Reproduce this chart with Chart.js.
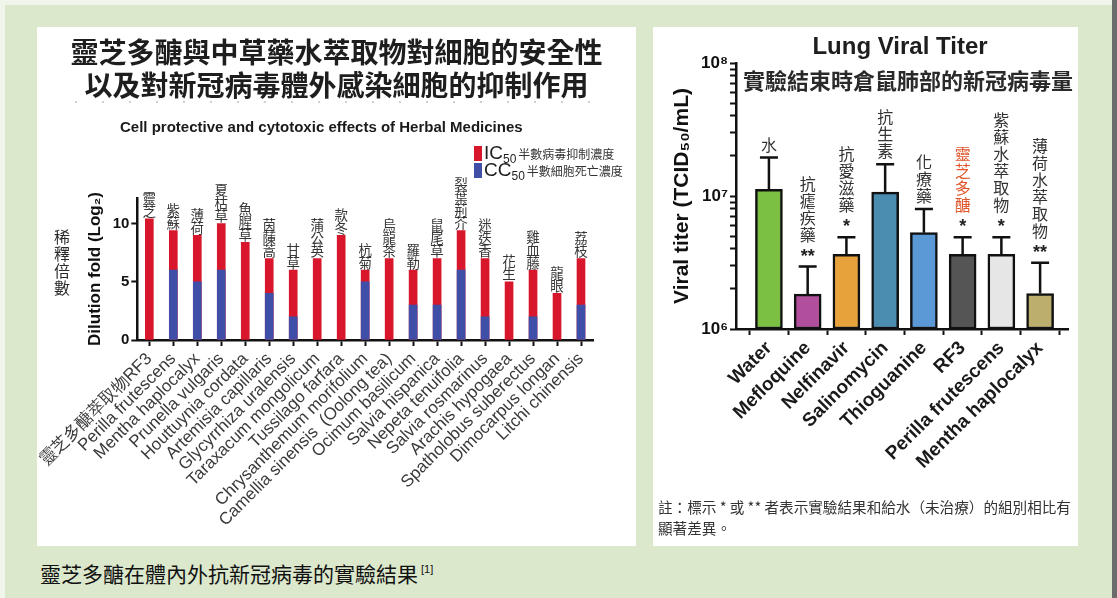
<!DOCTYPE html>
<html>
<head>
<meta charset="utf-8">
<title>靈芝多醣在體內外抗新冠病毒的實驗結果</title>
<script src="https://cdn.jsdelivr.net/npm/chart.js@4.4.1/dist/chart.umd.min.js"></script>
<style>
  html, body { margin: 0; padding: 0; }
  body { width: 1117px; height: 598px; position: relative; overflow: hidden; background: #f1f6ec;
         font-family: "Liberation Sans", Arial, sans-serif; }
  #frame { position: absolute; left: 5px; top: 5px; width: 1107px; height: 593px; background: #dce8cc; }
  #edge { position: absolute; left: 1112px; top: 0; width: 5px; height: 598px; background: #6c6c6c; }
  .panel { position: absolute; background: #fff; }
  #pL { left: 37px; top: 27px; width: 599px; height: 519px; }
  #pR { left: 653px; top: 27px; width: 425px; height: 519px; }
  canvas { position: absolute; left: 0; top: 0; }
  .t { position: absolute; white-space: nowrap; }
  .cjk { font-family: "Noto Sans CJK TC", "Noto Sans CJK SC", sans-serif; }
  .ttl { left: 0; width: 599px; text-align: center; font-size: 28px; line-height: 32px; font-weight: bold; color: #1e1e1e; }
  #dots { position: absolute; left: 38px; top: 74px; width: 526px; height: 2px;
          background: repeating-linear-gradient(90deg, #cfcfcf 0 2px, transparent 2px 27px); }
  #sub { left: 83px; top: 91px; font-size: 15px; line-height: 18px; font-weight: bold; color: #1a1a1a; }
  #vlab { left: 17px; top: 202px; writing-mode: vertical-rl; font-size: 16px; line-height: 16px; color: #2a2a2a; letter-spacing: 1px; }
  .lg { position: absolute; left: 437px; height: 17px; line-height: 17px; color: #1e1e1e; white-space: nowrap; }
  .lg .sw { display: inline-block; width: 8px; height: 15px; vertical-align: -2px; margin-right: 2px; }
  .lg .big { font-size: 19px; }
  .lg .s50 { font-size: 12px; position: relative; top: 4px; }
  .lg .cn { font-size: 12px; margin-left: 2px; color: #333; }
  #rt1 { left: 0; width: 494px; text-align: center; top: 4px; font-size: 24px; line-height: 30px; font-weight: bold; color: #1e1e1e; }
  #rt2 { left: 0; width: 510px; text-align: center; top: 38px; font-size: 22px; line-height: 28px; font-weight: bold; color: #2a2a2a; }
  .note { left: 5px; font-size: 14.6px; line-height: 18px; color: #333; }
  #cap { left: 40px; top: 555px; font-size: 21px; line-height: 28px; color: #111; }
  #cap sup { font-family: "Liberation Sans", Arial, sans-serif; font-size: 11px; vertical-align: 9px; margin-left: 3px; }
</style>
</head>
<body>
<div id="frame"></div>
<div id="edge"></div>

<div class="panel" id="pL">
  <canvas id="herbChart" width="599" height="519"></canvas>
  <div class="t ttl cjk" style="top:8px">靈芝多醣與中草藥水萃取物對細胞的安全性</div>
  <div class="t ttl cjk" style="top:41px">以及對新冠病毒體外感染細胞的抑制作用</div>
  <div id="dots"></div>
  <div class="t" id="sub">Cell protective and cytotoxic effects of Herbal Medicines</div>
  <div class="t cjk" id="vlab">稀釋倍數</div>
  <div class="lg" style="top:117px"><span class="sw" style="background:#d8172c"></span><span class="big">IC</span><span class="s50">50</span><span class="cn cjk">半數病毒抑制濃度</span></div>
  <div class="lg" style="top:134px"><span class="sw" style="background:#3f4ea6"></span><span class="big">CC</span><span class="s50">50</span><span class="cn cjk">半數細胞死亡濃度</span></div>
</div>

<div class="panel" id="pR">
  <canvas id="titerChart" width="425" height="519"></canvas>
  <div class="t" id="rt1">Lung Viral Titer</div>
  <div class="t cjk" id="rt2">實驗結束時倉鼠肺部的新冠病毒量</div>
  <div class="t note cjk" style="top:471px">註：標示 * 或 ** 者表示實驗結果和給水（未治療）的組別相比有</div>
  <div class="t note cjk" style="top:492px">顯著差異。</div>
</div>

<div class="t cjk" id="cap">靈芝多醣在體內外抗新冠病毒的實驗結果<sup>[1]</sup></div>

<script>
// ---- Cell protective / cytotoxic effects (log2 dilution fold) ----
const herbLatin = [
  "靈芝多醣萃取物RF3", "Perilla frutescens", "Mentha haplocalyx", "Prunella vulgaris",
  "Houttuynia cordata", "Artemisia capillaris", "Glycyrrhiza uralensis", "Taraxacum mongolicum",
  "Tussilago farfara", "Chrysanthemum morifolium", "Camellia sinensis  (Oolong tea)", "Ocimum basilicum",
  "Salvia hispanica", "Nepeta tenuifolia", "Salvia rosmarinus", "Arachis hypogaea",
  "Spatholobus suberectus", "Dimocarpus longan", "Litchi chinensis"
];
const herbChinese = [
  "靈芝", "紫蘇", "薄荷", "夏枯草", "魚腥草", "茵蔯蒿", "甘草", "蒲公英", "款冬", "杭菊",
  "烏龍茶", "羅勒", "鼠尾草", "裂葉荊芥", "迷迭香", "花生", "雞血藤", "龍眼", "荔枝"
];
const ic50Log2 = [10.4, 9.4, 9, 10, 8.4, 7, 6, 7, 9, 6, 7, 6, 7, 9.4, 7, 5, 6, 4, 7];
const cc50Log2 = [null, 6, 5, 6, null, 4, 2, null, null, 5, null, 3, 3, 6, 2, null, 2, null, 3];
const dilutionTicks = [0, 5, 10];

// ---- Lung viral titer in hamsters (TCID50/mL) ----
const titerGroups = [
  "Water", "Mefloquine", "Nelfinavir", "Salinomycin",
  "Thioguanine", "RF3", "Perilla frutescens", "Mentha haplocalyx"
];
const titerChinese = ["水", "抗瘧疾藥", "抗愛滋藥", "抗生素", "化療藥", "靈芝多醣", "紫蘇水萃取物", "薄荷水萃取物"];
const titerStars = ["", "**", "*", "", "", "*", "*", "**"];
const titerMean = [1.12e7, 1.83e6, 3.65e6, 1.07e7, 5.3e6, 3.65e6, 3.65e6, 1.85e6];
const titerUpper = [1.95e7, 2.95e6, 4.9e6, 1.73e7, 8.0e6, 4.9e6, 4.9e6, 3.15e6];
const titerMajorTicks = [1e6, 1e7, 1e8];

const titerColors = ["#7bc043", "#b24f9d", "#e8a23c", "#4a8db0", "#5a98d6", "#555555", "#e6e6e6", "#bcae6c"];
const titerTextColors = ["#333", "#333", "#333", "#333", "#333", "#e2562b", "#333", "#333"];

const LATIN = '"Liberation Sans", Arial, sans-serif';
const CJK = '"Noto Sans CJK TC", "Noto Sans CJK SC", sans-serif';
const SUP = { 6: "⁶", 7: "⁷", 8: "⁸" };

Chart.defaults.animation = false;
Chart.defaults.font.family = LATIN;
Chart.defaults.plugins.legend.display = false;
Chart.defaults.plugins.tooltip.enabled = false;

// stacked Chinese names above each IC50 bar
const herbNamePlugin = {
  id: 'herbNames',
  afterDatasetsDraw(chart) {
    const meta = chart.getDatasetMeta(1);
    const ctx = chart.ctx;
    ctx.save();
    ctx.font = '13.5px ' + CJK;
    ctx.fillStyle = '#363636';
    ctx.textAlign = 'center';
    ctx.textBaseline = 'bottom';
    meta.data.forEach((bar, i) => {
      const chars = Array.from(herbChinese[i]);
      let y = bar.y - 1;
      for (let j = chars.length - 1; j >= 0; j--) {
        ctx.fillText(chars[j], bar.x, y);
        y -= 13;
      }
    });
    ctx.restore();
  }
};

// upper error bars, significance stars and stacked Chinese group names
const titerAnnotPlugin = {
  id: 'titerAnnot',
  afterDatasetsDraw(chart) {
    const meta = chart.getDatasetMeta(0);
    const yScale = chart.scales.y;
    const ctx = chart.ctx;
    ctx.save();
    meta.data.forEach((bar, i) => {
      const yTop = yScale.getPixelForValue(titerUpper[i]);
      ctx.strokeStyle = '#111';
      ctx.lineWidth = 2.5;
      ctx.beginPath();
      ctx.moveTo(bar.x, bar.y);
      ctx.lineTo(bar.x, yTop);
      ctx.moveTo(bar.x - 9, yTop);
      ctx.lineTo(bar.x + 9, yTop);
      ctx.stroke();

      let y = yTop - 5;
      ctx.textAlign = 'center';
      if (titerStars[i]) {
        ctx.font = 'bold 18px ' + LATIN;
        ctx.fillStyle = '#222';
        ctx.textBaseline = 'alphabetic';
        ctx.fillText(titerStars[i], bar.x, yTop - 5);
        y = yTop - 24;
      }
      ctx.font = '16px ' + CJK;
      ctx.fillStyle = titerTextColors[i];
      ctx.textBaseline = 'bottom';
      const chars = Array.from(titerChinese[i]);
      for (let j = chars.length - 1; j >= 0; j--) {
        ctx.fillText(chars[j], bar.x, y);
        y -= 17;
      }
    });
    ctx.restore();
  }
};

new Chart(document.getElementById('herbChart'), {
  type: 'bar',
  data: {
    labels: herbLatin,
    datasets: [
      { label: 'CC50', data: cc50Log2, backgroundColor: '#3f4ea6', grouped: false, barThickness: 8 },
      { label: 'IC50', data: ic50Log2, backgroundColor: '#d8172c', grouped: false, barThickness: 8 }
    ]
  },
  options: {
    responsive: false,
    layout: { autoPadding: false, padding: { left: 38, top: 171, right: 43, bottom: 0 } },
    scales: {
      x: {
        offset: true,
        grid: { display: true, offset: false, drawOnChartArea: false, drawTicks: true, tickLength: 6, tickWidth: 2, tickColor: '#111' },
        border: { display: true, color: '#111', width: 2.5 },
        ticks: { autoSkip: false, minRotation: 45, maxRotation: 45, padding: 3, color: '#3a3a3a', font: { size: 17 } },
        afterFit(s) { s.height = 206; }
      },
      y: {
        min: 0, max: 12.2,
        afterBuildTicks(s) { s.ticks = dilutionTicks.map(v => ({ value: v })); },
        grid: { drawOnChartArea: false, tickLength: 6, tickWidth: 2, tickColor: '#111' },
        border: { display: true, color: '#111', width: 2.5 },
        ticks: { color: '#111', font: { size: 15, weight: 'bold' }, padding: 2 },
        title: { display: true, text: 'Dilution fold (Log₂)', color: '#111', font: { size: 17, weight: 'bold' }, padding: { top: 4, bottom: 4 } },
        afterFit(s) { s.width = 56; }
      }
    }
  },
  plugins: [herbNamePlugin]
});

const titerTickValues = [];
titerMajorTicks.forEach((m, k) => {
  titerTickValues.push({ value: m, major: true });
  if (k < titerMajorTicks.length - 1) {
    for (let d = 2; d <= 9; d++) titerTickValues.push({ value: m * d, major: false });
  }
});

new Chart(document.getElementById('titerChart'), {
  type: 'bar',
  data: {
    datasets: [{
      label: 'Viral titer',
      data: titerMean.map((v, i) => ({ x: i, y: v })),
      backgroundColor: titerColors,
      borderColor: '#111',
      borderWidth: 2.5,
      borderSkipped: false,
      barThickness: 27
    }]
  },
  options: {
    responsive: false,
    layout: { autoPadding: false, padding: { left: 13, top: 36, right: 10, bottom: 0 } },
    scales: {
      x: {
        type: 'linear', min: -0.85, max: 7.72, offset: false,
        afterBuildTicks(s) { s.ticks = titerGroups.map((_, i) => ({ value: i })); },
        ticks: { callback: v => titerGroups[v], autoSkip: false, minRotation: 45, maxRotation: 45, padding: 2,
                 color: '#1a1a1a', font: { size: 19, weight: 'bold' } },
        grid: { drawOnChartArea: false, tickLength: 6, tickWidth: 2, tickColor: '#111' },
        border: { display: true, color: '#111', width: 2.5 },
        afterFit(s) { s.height = 519 - 302; }
      },
      y: {
        type: 'logarithmic', min: 1e6, max: 1e8,
        afterBuildTicks(s) { s.ticks = titerTickValues.map(t => ({ value: t.value, major: t.major })); },
        ticks: {
          autoSkip: false, padding: 2, color: '#111', font: { size: 17, weight: 'bold' },
          callback: v => {
            const e = Math.round(Math.log10(v));
            return Math.abs(v - Math.pow(10, e)) < 1 ? '10' + SUP[e] : '';
          }
        },
        grid: { drawOnChartArea: false, tickLength: 6, tickWidth: 2, tickColor: '#111' },
        border: { display: true, color: '#111', width: 2.5 },
        title: { display: true, text: 'Viral titer (TCID₅₀/mL)', color: '#111', font: { size: 21, weight: 'bold' }, padding: { top: 4, bottom: 4 } },
        afterFit(s) { s.width = 70; }
      }
    }
  },
  plugins: [titerAnnotPlugin]
});
</script>
</body>
</html>
